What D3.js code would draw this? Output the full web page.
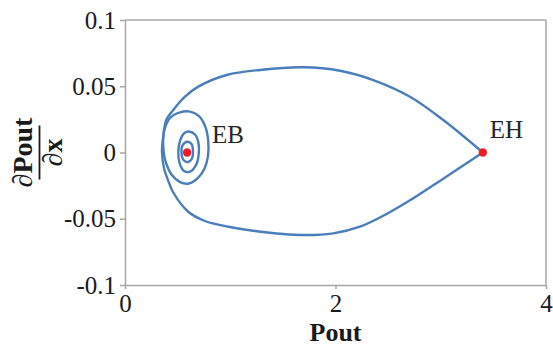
<!DOCTYPE html>
<html>
<head>
<meta charset="utf-8">
<script src="https://cdn.jsdelivr.net/npm/d3@7"></script>
<style>
  html, body { margin: 0; padding: 0; background: #fff; }
  svg { display: block; }
  text { font-family: "Liberation Serif", "Times New Roman", serif; }
</style>
</head>
<body>
<svg id="chart" width="553" height="347"></svg>
<script>
// ---- Data ----
const xTicks = [0, 2, 4];
const xTickLabels = ["0", "2", "4"];
const yTicks = [0.1, 0.05, 0, -0.05, -0.1];
const yTickLabels = ["0.1", "0.05", "0", "-0.05", "-0.1"];

// Outer (homoclinic) trajectory: from EH along the top, round the left, back along the bottom to EH
const outerPout = [3.40, 3.024, 2.708, 2.359, 2.043, 1.694, 1.283, 0.966, 0.696, 0.570, 0.459, 0.392, 0.361, 0.3515, 0.3705, 0.4086, 0.456, 0.601, 0.760, 0.982, 1.235, 1.694, 1.979, 2.233, 2.486, 2.739, 3.024, 3.40];
const outerDeriv = [0.0, 0.0245, 0.0421, 0.0547, 0.0617, 0.0643, 0.0623, 0.0585, 0.0497, 0.0421, 0.0321, 0.0245, 0.0107, 0.0006, -0.0119, -0.0208, -0.0298, -0.0447, -0.0517, -0.056, -0.0592, -0.0623, -0.0610, -0.0560, -0.0464, -0.0346, -0.0198, 0.0];

// Spiral loops around EB
const loop1Pout = [0.3705, 0.4276, 0.5226, 0.6176, 0.7031, 0.7648, 0.7905, 0.7886, 0.7572, 0.6936, 0.6081, 0.5226, 0.4418, 0.3895, 0.3658];
const loop1Deriv = [0.0155, 0.0260, 0.0303, 0.0309, 0.0275, 0.0192, 0.0087, -0.0026, -0.0119, -0.0192, -0.0234, -0.0223, -0.0166, -0.0079, 0.0019];
const loop2Pout = [0.5986, 0.6651, 0.6983, 0.7012, 0.6793, 0.6223, 0.5606, 0.5178, 0.5064, 0.5226, 0.5558];
const loop2Deriv = [0.0158, 0.0136, 0.0072, -0.0004, -0.0087, -0.0143, -0.0140, -0.0079, 0.0004, 0.0087, 0.0140];
const loop3Pout = [0.5938, 0.6318, 0.6461, 0.6366, 0.5986, 0.5558, 0.5368, 0.5463];
const loop3Deriv = [0.0081, 0.0064, 0.0011, -0.0045, -0.0072, -0.0057, -0.0004, 0.0053];

// Equilibrium points
const eqNames = ["EB", "EH"];
const eqPout = [0.59, 3.40];
const eqDeriv = [0.0, 0.0];

// ---- Drawing ----
const FONT = '"Liberation Serif", "Times New Roman", serif';
const svg = d3.select("#chart");
const x = d3.scaleLinear().domain([0, 4]).range([125, 546]);
const y = d3.scaleLinear().domain([-0.1, 0.1]).range([285, 20]);
const axisColor = "#a6a6a6";
const lineColor = "#4a7ebb";
const textColor = "#1a1a1a";

// frame (top and right borders)
svg.append("line").attr("x1", x(0)).attr("x2", x(4)).attr("y1", y(0.1)).attr("y2", y(0.1))
  .attr("stroke", axisColor).attr("stroke-width", 1.5);
svg.append("line").attr("x1", x(4)).attr("x2", x(4)).attr("y1", y(0.1)).attr("y2", y(-0.1))
  .attr("stroke", axisColor).attr("stroke-width", 1.5);

// axes
const gx = svg.append("g").attr("transform", `translate(0,${y(-0.1)})`)
  .call(d3.axisBottom(x).tickValues(xTicks).tickFormat((d, i) => xTickLabels[i]).tickSize(4).tickPadding(5).tickSizeOuter(0));
const gy = svg.append("g").attr("transform", `translate(${x(0)},0)`)
  .call(d3.axisLeft(y).tickValues(yTicks).tickFormat((d, i) => yTickLabels[i]).tickSize(5).tickPadding(4).tickSizeOuter(0));
[gx, gy].forEach(g => {
  g.attr("font-family", FONT).attr("font-size", 25);
  g.select(".domain").attr("stroke", axisColor).attr("stroke-width", 1.5);
  g.selectAll(".tick line").attr("stroke", axisColor).attr("stroke-width", 1.5);
  g.selectAll(".tick text").attr("fill", textColor)
    .style("font-family", FONT).style("font-size", "25px");
});

// trajectories
const line = d3.line().x(d => x(d[0])).y(d => y(d[1])).curve(d3.curveCatmullRom.alpha(0.5));
const lineClosed = d3.line().x(d => x(d[0])).y(d => y(d[1])).curve(d3.curveCatmullRomClosed.alpha(0.5));
const zip = (a, b) => a.map((v, i) => [v, b[i]]);

svg.append("path").datum(zip(outerPout, outerDeriv)).attr("d", line)
  .attr("fill", "none").attr("stroke", lineColor).attr("stroke-width", 2.4).attr("stroke-linejoin", "miter");
[[loop1Pout, loop1Deriv], [loop2Pout, loop2Deriv], [loop3Pout, loop3Deriv]].forEach(([a, b]) => {
  svg.append("path").datum(zip(a, b)).attr("d", lineClosed)
    .attr("fill", "none").attr("stroke", lineColor).attr("stroke-width", 2.4);
});

// equilibrium points
const eq = eqNames.map((n, i) => ({ name: n, p: eqPout[i], d: eqDeriv[i] }));
svg.selectAll("circle.eq").data(eq).join("circle").attr("class", "eq")
  .attr("cx", d => x(d.p)).attr("cy", d => y(d.d)).attr("r", 4.2).attr("fill", "#ee1c24");
const labelOffsets = { EB: [25, -9.5], EH: [7, -15] };
svg.selectAll("text.eqlabel").data(eq).join("text").attr("class", "eqlabel")
  .attr("x", d => x(d.p) + labelOffsets[d.name][0]).attr("y", d => y(d.d) + labelOffsets[d.name][1])
  .attr("fill", "#262626").style("font-family", FONT).style("font-size", "25px").text(d => d.name);

// axis titles
svg.append("text").attr("x", (x(0) + x(4)) / 2).attr("y", 341).attr("text-anchor", "middle")
  .attr("fill", textColor).style("font-family", FONT).style("font-size", "26px").style("font-weight", "bold").text("Pout");

const yt = svg.append("g").attr("transform", `translate(0,${y(0)})`);
yt.append("text").attr("transform", "translate(31.5,0) rotate(-90)").attr("text-anchor", "middle")
  .attr("fill", textColor).style("font-family", FONT).style("font-size", "28px").style("font-weight", "bold").text("∂Pout");
yt.append("line").attr("x1", 39.5).attr("x2", 39.5).attr("y1", -27).attr("y2", 27)
  .attr("stroke", textColor).attr("stroke-width", 1.8);
yt.append("text").attr("transform", "translate(61.5,0) rotate(-90)").attr("text-anchor", "middle")
  .attr("fill", textColor).style("font-family", FONT).style("font-size", "28px").style("font-weight", "bold").text("∂x");
</script>
</body>
</html>
